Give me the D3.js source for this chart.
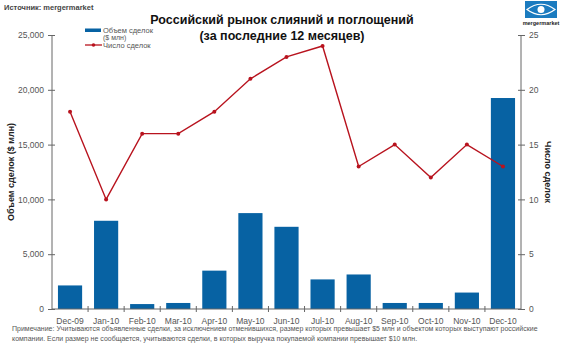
<!DOCTYPE html>
<html><head><meta charset="utf-8">
<script src="https://cdn.jsdelivr.net/npm/d3@7"></script>
<style>body{margin:0;background:#fff}svg{display:block;font-family:Arial,"Liberation Sans",sans-serif}</style>
</head><body><svg id="c" width="570" height="350"></svg>
<script>
const categories=["Dec-09","Jan-10","Feb-10","Mar-10","Apr-10","May-10","Jun-10","Jul-10","Aug-10","Sep-10","Oct-10","Nov-10","Dec-10"];
const dealValue=[2150,8050,450,550,3500,8750,7500,2700,3150,550,550,1500,19250];
const dealCount=[18,10,16,16,18,21,23,24,13,15,12,15,13];
const leftTicks=[0,5000,10000,15000,20000,25000];
const rightTicks=[0,5,10,15,20,25];

const svg=d3.select("#c");
const L=52,R=521,T=35,B=309;
const x=d3.scaleBand().domain(categories).range([L,R]).paddingInner(0.33).paddingOuter(0.165);
const xb=d3.scaleBand().domain(categories).range([L,R]);
const yL=d3.scaleLinear().domain([0,25000]).range([B,T]);
const yR=d3.scaleLinear().domain([0,25]).range([B,T]);
const axisCol="#666", txtCol="#555";
const fmt=d3.format(",");

// bars
svg.append("g").selectAll("rect").data(categories).join("rect")
 .attr("x",d=>x(d)).attr("width",x.bandwidth())
 .attr("y",(d,i)=>yL(dealValue[i])).attr("height",(d,i)=>B-yL(dealValue[i]))
 .attr("fill","#0762a3");

// left axis
const gl=svg.append("g").attr("transform",`translate(${L},0)`)
 .call(d3.axisLeft(yL).tickValues(leftTicks).tickFormat(fmt).tickSize(4).tickPadding(4));
gl.selectAll(".tick line").attr("x2",3).attr("x1",-4);
// right axis
const gr=svg.append("g").attr("transform",`translate(${R},0)`)
 .call(d3.axisRight(yR).tickValues(rightTicks).tickSize(4).tickPadding(4));
gr.selectAll(".tick line").attr("x1",-3).attr("x2",4);
// x axis
const gx=svg.append("g").attr("transform",`translate(0,${B})`)
 .call(d3.axisBottom(x).tickSize(0).tickPadding(9));
gx.selectAll(".tick text").attr("dy","0.71em");
gx.append("g").selectAll("line").data(categories.slice(1)).join("line")
 .attr("x1",d=>xb(d)).attr("x2",d=>xb(d)).attr("y1",-3).attr("y2",3).attr("stroke",axisCol);
[gl,gr,gx].forEach(g=>{
 g.select(".domain").attr("stroke",axisCol).attr("d",null);
 g.selectAll(".tick line").attr("stroke",axisCol);
 g.selectAll("text").attr("fill",txtCol).attr("font-size",8.5).attr("font-family","Arial,'Liberation Sans',sans-serif");
});
gl.select(".domain").attr("d",`M0,${T}V${B}`);
gr.select(".domain").attr("d",`M0,${T}V${B}`);
gx.select(".domain").attr("d",`M${L},0H${R}`);

// line
const line=d3.line().x((d,i)=>x(categories[i])+x.bandwidth()/2).y(d=>yR(d));
svg.append("path").datum(dealCount).attr("d",line).attr("fill","none").attr("stroke","#b8131e").attr("stroke-width",1.4);
svg.append("g").selectAll("circle").data(dealCount).join("circle")
 .attr("cx",(d,i)=>x(categories[i])+x.bandwidth()/2).attr("cy",d=>yR(d)).attr("r",2).attr("fill","#b8131e");

// titles
svg.append("text").attr("x",282).attr("y",24).attr("text-anchor","middle").attr("font-weight","bold").attr("font-size",12.5).attr("fill","#111").text("Российский рынок слияний и поглощений");
svg.append("text").attr("x",282).attr("y",40).attr("text-anchor","middle").attr("font-weight","bold").attr("font-size",12.5).attr("fill","#111").text("(за последние 12 месяцев)");
svg.append("text").attr("x",4).attr("y",10).attr("font-weight","bold").attr("font-size",7.5).attr("fill","#444").text("Источник: mergermarket");

// axis titles
svg.append("text").attr("transform",`translate(14,${(T+B)/2}) rotate(-90)`).attr("text-anchor","middle").attr("font-weight","bold").attr("font-size",9).attr("fill","#222").text("Объем сделок ($ млн)");
svg.append("text").attr("transform",`translate(545,${(T+B)/2}) rotate(90)`).attr("text-anchor","middle").attr("font-weight","bold").attr("font-size",9).attr("fill","#222").text("Число сделок");

// legend
const lg=svg.append("g");
lg.append("rect").attr("x",85).attr("y",28.5).attr("width",16).attr("height",3.5).attr("fill","#0762a3");
lg.append("text").attr("x",103).attr("y",32.5).attr("font-size",7.5).attr("fill",txtCol).text("Объем сделок");
lg.append("text").attr("x",103).attr("y",40).attr("font-size",7).attr("fill",txtCol).text("($ млн)");
lg.append("line").attr("x1",85).attr("x2",102).attr("y1",45).attr("y2",45).attr("stroke","#b8131e").attr("stroke-width",1.3);
lg.append("circle").attr("cx",93.5).attr("cy",45).attr("r",1.8).attr("fill","#b8131e");
lg.append("text").attr("x",103).attr("y",48).attr("font-size",7.5).attr("fill",txtCol).text("Число сделок");

// logo
const lo=svg.append("g");
lo.append("rect").attr("x",525).attr("y",1).attr("width",32).attr("height",17).attr("fill","#1b7bbf");
lo.append("path").attr("d","M527,9.5 Q541,-1 555,9.5 Q541,20 527,9.5 Z").attr("fill","none").attr("stroke","#fff").attr("stroke-width",1.2);
lo.append("circle").attr("cx",541).attr("cy",9.5).attr("r",3.5).attr("fill","#fff");
lo.append("text").attr("x",541).attr("y",25).attr("text-anchor","middle").attr("font-weight","bold").attr("font-size",5.5).attr("fill","#222").text("mergermarket");

// footnote
svg.append("text").attr("x",12).attr("y",331).attr("font-size",7).attr("fill","#555").text("Примечание: Учитываются объявленные сделки, за исключением отменившихся, размер которых превышает $5 млн и объектом которых выступают российские");
svg.append("text").attr("x",12).attr("y",341).attr("font-size",7).attr("fill","#555").text("компании. Если размер не сообщается, учитываются сделки, в которых выручка покупаемой компании превышает $10 млн.");
</script></body></html>
